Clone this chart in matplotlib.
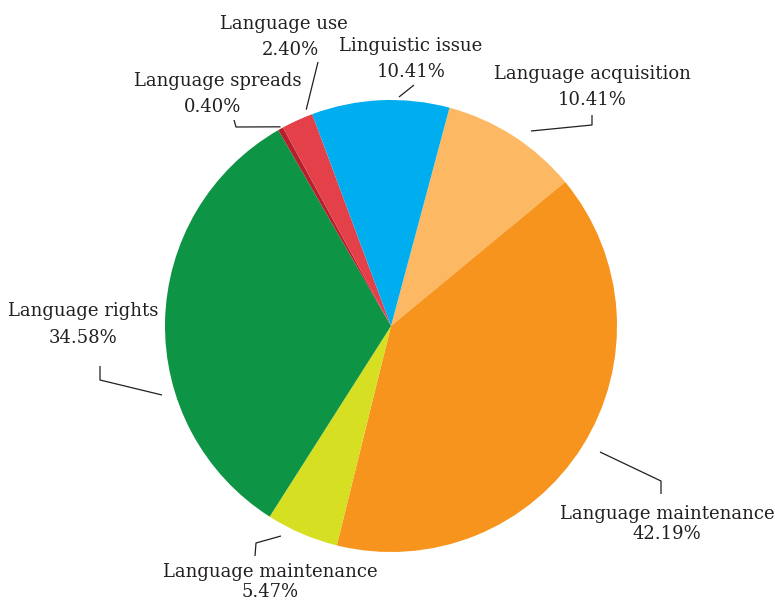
import numpy as np
import matplotlib.pyplot as plt

categories = ["Language acquisition", "Language maintenance", "Language maintenance",
              "Language rights", "Language spreads", "Language use", "Linguistic issue"]
shares = [10.41, 42.19, 5.47, 34.58, 0.40, 2.40, 10.41]
share_labels = [f"{v:.2f}%" for v in shares]
colors = ["#FDB863", "#F7941D", "#D7DF23", "#0E9445", "#B5202C", "#E4404A", "#00ADEF"]

W, H = 775, 602
fig = plt.figure(figsize=(W / 100, H / 100), dpi=100)
ax = fig.add_axes([0, 0, 1, 1])

cx, cy, R = 391, H - 326, 226
wedges, _ = ax.pie(shares, colors=colors, startangle=75, counterclock=False,
                   center=(cx, cy), radius=R, wedgeprops=dict(linewidth=0))
ax.set_xlim(0, W)
ax.set_ylim(0, H)
ax.set_aspect("equal")
ax.axis("off")

# callout layout in pixel units measured from the top-left corner:
# preferred leader start, elbow, leader end, centre of name line, centre of value line
layout = [
    ((531, 131), (592, 125), (592, 115), (592, 74), (592, 100)),
    ((600, 452), (661, 481), (661, 494), (667, 514), (667, 534)),
    ((281, 536), (256, 543), (255, 556), (270, 572), (270, 592)),
    ((162, 395), (100, 380), (100, 366), (83, 311), (83, 338)),
    ((313, 112), (236, 127), (234, 120), (218, 81), (213, 107)),
    ((333, 101), None, (318, 62), (284, 24), (290, 50)),
    ((399, 97), None, (414, 85), (411, 46), (411, 72)),
]

text_kw = dict(family="DejaVu Serif", fontsize=13, color="#231F20",
               ha="center", va="center")
line_kw = dict(color="#231F20", lw=0.9, solid_capstyle="butt")


def leader_start(wedge, px, py):
    """Point near the rim, kept inside the wedge's own angular span."""
    dx, dy = px - cx, (H - py) - cy
    rad = np.hypot(dx, dy)
    ang = np.degrees(np.arctan2(dy, dx))
    lo, hi = sorted((wedge.theta1, wedge.theta2))
    # bring the angle into the wedge's range (mod 360)
    while ang < lo - 180:
        ang += 360
    while ang > hi + 180:
        ang -= 360
    span = hi - lo
    pad = min(1.0, span / 3)
    ang = np.clip(ang, lo + pad, hi - pad)
    a = np.deg2rad(ang)
    return cx + rad * np.cos(a), cy + rad * np.sin(a)


for w, name, val, (start, elbow, end, name_xy, val_xy) in zip(
        wedges, categories, share_labels, layout):
    pts = [leader_start(w, *start)]
    if elbow is not None:
        pts.append((elbow[0], H - elbow[1]))
    pts.append((end[0], H - end[1]))
    xs, ys = zip(*pts)
    ax.plot(xs, ys, **line_kw)
    ax.text(name_xy[0], H - name_xy[1], name, **text_kw)
    ax.text(val_xy[0], H - val_xy[1], val, **text_kw)

fig.savefig("out.png", dpi=100)
